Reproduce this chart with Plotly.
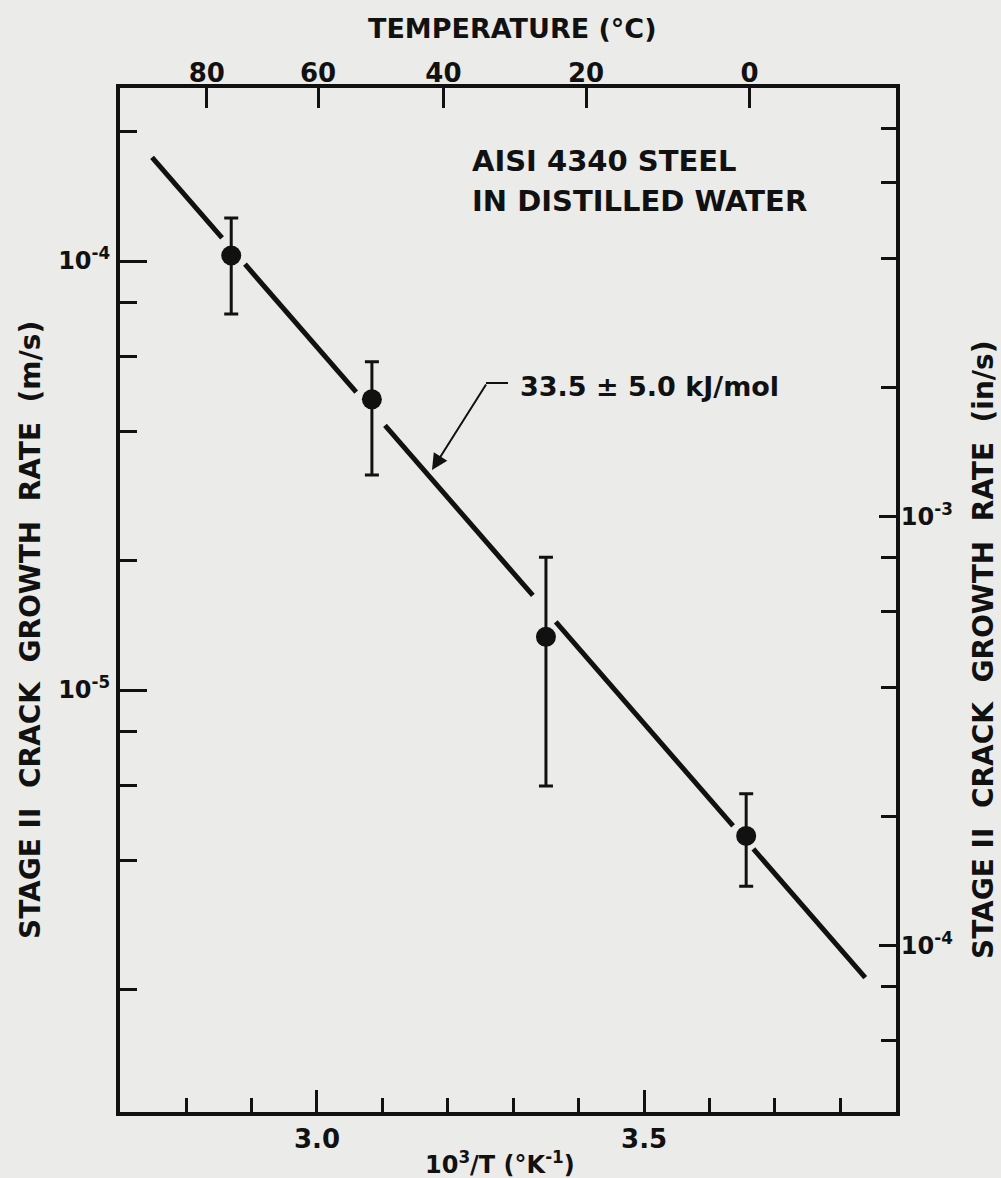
import math
import plotly.graph_objects as go

# ---------------- data ----------------
inv_T = [2.869, 3.084, 3.350, 3.656]            # 10^3/T (1/K)
rate = [1.03e-4, 4.76e-5, 1.33e-5, 4.57e-6]      # m/s
rate_hi = [1.26e-4, 5.82e-5, 2.04e-5, 5.73e-6]   # upper error bar end
rate_lo = [7.52e-5, 3.17e-5, 5.97e-6, 3.49e-6]   # lower error bar end

# fitted line drawn as broken segments (start / end points)
seg_x0 = [2.748, 2.890, 3.104, 3.365, 3.667]
seg_y0 = [1.745e-4, 9.83e-5, 4.14e-5, 1.442e-5, 4.26e-6]
seg_x1 = [2.855, 3.060, 3.330, 3.636, 3.838]
seg_y1 = [1.132e-4, 4.95e-5, 1.661e-5, 4.82e-6, 2.135e-6]

x_major = [3.0, 3.5]
x_major_text = ["3.0", "3.5"]
x_minor = [2.8, 2.9, 3.1, 3.2, 3.3, 3.4, 3.6, 3.7, 3.8]

temp_C = [80, 60, 40, 20, 0]

y_major = [1e-4, 1e-5]
y_major_text = ["10<sup>-4</sup>", "10<sup>-5</sup>"]
y_minor = [2e-4, 8e-5, 6e-5, 4e-5, 2e-5, 8e-6, 6e-6, 4e-6, 2e-6]

y2_major = [1e-3, 1e-4]
y2_major_text = ["10<sup>-3</sup>", "10<sup>-4</sup>"]
y2_minor = [8e-3, 6e-3, 4e-3, 2e-3, 8e-4, 6e-4, 4e-4, 2e-4, 8e-5, 6e-5]

# ---------------- layout geometry ----------------
W, H = 1001, 1178
L, R, T, B = 120, 896, 88, 1112
X_RANGE = [2.699, 3.885]
Y_RANGE = [-5.9837, -3.5967]          # log10 m/s
M_TO_IN = 1 / 0.0254
Y2_RANGE = [Y_RANGE[0] + math.log10(M_TO_IN), Y_RANGE[1] + math.log10(M_TO_IN)]

INK = "#111111"
BG = "#ebebe9"
FONT = "DejaVu Sans"


def px(xp):
    return (xp - L) / (R - L)


def py(yp):
    return (B - yp) / (B - T)


fig = go.Figure()

# fit line segments
lx, ly = [], []
for a, b, c, d in zip(seg_x0, seg_y0, seg_x1, seg_y1):
    lx += [a, c, None]
    ly += [b, d, None]
fig.add_trace(go.Scatter(x=lx, y=ly, mode="lines",
                         line=dict(color=INK, width=5), showlegend=False,
                         hoverinfo="skip"))

# data points with error bars
fig.add_trace(go.Scatter(
    x=inv_T, y=rate, mode="markers",
    marker=dict(color=INK, size=20),
    error_y=dict(type="data", symmetric=False,
                 array=[h - v for h, v in zip(rate_hi, rate)],
                 arrayminus=[v - l for v, l in zip(rate, rate_lo)],
                 color=INK, thickness=3, width=7),
    showlegend=False))

# invisible trace to hold secondary axes
fig.add_trace(go.Scatter(x=[X_RANGE[0]], y=[1e-3], xaxis="x2", yaxis="y2",
                         mode="markers", marker=dict(opacity=0),
                         showlegend=False, hoverinfo="skip"))

tickfont = dict(family=FONT, size=26, color=INK, weight="bold")
ytickfont = dict(family=FONT, size=24, color=INK, weight="bold")
axline = dict(showline=True, linecolor=INK, linewidth=4, showgrid=False,
              zeroline=False, ticks="inside", tickcolor=INK, tickwidth=3)

fig.update_layout(
    width=W, height=H,
    margin=dict(l=L, r=W - R, t=T, b=H - B),
    paper_bgcolor=BG, plot_bgcolor=BG,
    xaxis=dict(range=X_RANGE, tickmode="array", tickvals=x_major,
               ticktext=x_major_text, ticklen=22, tickfont=tickfont,
               ticklabelstandoff=1,
               minor=dict(tickmode="array", tickvals=x_minor, ticklen=14,
                          ticks="inside", tickcolor=INK, tickwidth=3),
               **axline),
    xaxis2=dict(range=X_RANGE, overlaying="x", side="top", anchor="y",
                tickmode="array",
                tickvals=[1000 / (t + 273.15) for t in temp_C],
                ticktext=[str(t) for t in temp_C], ticklen=20,
                tickfont=tickfont, ticklabelstandoff=-8, **axline),
    yaxis=dict(type="log", range=Y_RANGE, tickmode="array", tickvals=y_major,
               ticktext=y_major_text, ticklen=27, tickfont=ytickfont,
               ticklabelstandoff=1,
               minor=dict(tickmode="array", tickvals=y_minor, ticklen=17,
                          ticks="inside", tickcolor=INK, tickwidth=3),
               **axline),
    yaxis2=dict(type="log", range=Y2_RANGE, overlaying="y", side="right",
                anchor="x", tickmode="array", tickvals=y2_major,
                ticktext=y2_major_text, ticklen=17, tickfont=ytickfont,
                ticklabelstandoff=-4,
                minor=dict(tickmode="array", tickvals=y2_minor, ticklen=15,
                           ticks="inside", tickcolor=INK, tickwidth=3),
                **axline),
)

txt = dict(family=FONT, size=27, color=INK, weight="bold")


def note(text, x, y, xanchor="center", angle=0, size=27):
    f = dict(txt)
    f["size"] = size
    fig.add_annotation(text=text, x=px(x), y=py(y), xref="paper", yref="paper",
                       xanchor=xanchor, yanchor="middle", showarrow=False,
                       textangle=angle, font=f)


note("TEMPERATURE (°C)", 512, 28)
note("AISI 4340 STEEL", 470, 161, xanchor="left", size=29)
note("IN DISTILLED WATER", 470, 201, xanchor="left", size=29)
note("33.5 ± 5.0 kJ/mol", 518, 386, xanchor="left", size=27)
note("10<sup>3</sup>/T (°K<sup>-1</sup>)", 500, 1163, size=24)
note("STAGE II  CRACK  GROWTH  RATE  (m/s)", 30, 630, angle=-90, size=28)
note("STAGE II  CRACK  GROWTH  RATE  (in/s)", 983, 650, angle=-90, size=28)

# leader with arrow for activation energy
fig.add_annotation(x=px(432), y=py(470), xref="paper", yref="paper",
                   ax=55, ay=-87, axref="pixel", ayref="pixel", text="",
                   showarrow=True, arrowhead=2, arrowsize=1.6, arrowwidth=2,
                   arrowcolor=INK)
fig.add_shape(type="line", xref="paper", yref="paper",
              x0=px(486), y0=py(383), x1=px(508), y1=py(383),
              line=dict(color=INK, width=2))

fig.write_html("out.html")
